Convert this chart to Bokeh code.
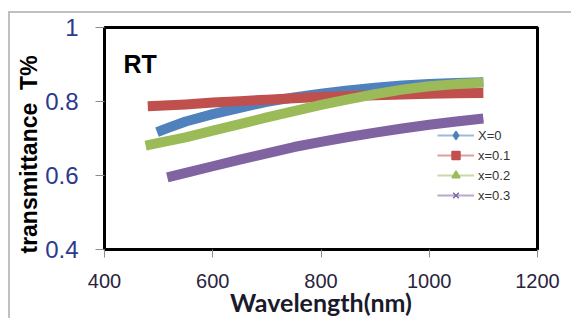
from math import pi
from bokeh.plotting import figure
from bokeh.models import Range1d, Label, Legend, LegendItem, FixedTicker
from bokeh.embed import file_html
from bokeh.resources import INLINE

# ---- data ----
series_labels = ["X=0", "x=0.1", "x=0.2", "x=0.3"]
colors = ["#4F81BD", "#C0504D", "#9BBB59", "#8064A2"]
markers = ["diamond", "square", "triangle", "x"]

wl_x0 = [497, 520, 550, 600, 650, 700, 750, 800, 850, 900, 950, 1000, 1050, 1100]
t_x0 = [0.717, 0.730, 0.746, 0.766, 0.783, 0.799, 0.811, 0.821, 0.830, 0.837, 0.843, 0.847, 0.850, 0.852]

wl_x01 = [480, 550, 600, 650, 700, 750, 800, 850, 900, 950, 1000, 1050, 1100]
t_x01 = [0.787, 0.792, 0.797, 0.801, 0.805, 0.809, 0.812, 0.815, 0.817, 0.819, 0.821, 0.822, 0.823]

wl_x02 = [476, 500, 550, 600, 650, 700, 750, 800, 850, 900, 950, 1000, 1050, 1100]
t_x02 = [0.681, 0.688, 0.703, 0.721, 0.739, 0.757, 0.774, 0.791, 0.806, 0.820, 0.832, 0.841, 0.847, 0.851]

wl_x03 = [516, 550, 600, 650, 700, 750, 800, 850, 900, 950, 1000, 1050, 1100]
t_x03 = [0.595, 0.607, 0.625, 0.643, 0.660, 0.677, 0.691, 0.704, 0.716, 0.727, 0.737, 0.746, 0.754]

x_ticks = [400, 600, 800, 1000, 1200]
y_ticks = [0.4, 0.6, 0.8, 1.0]
y_tick_labels = {0.4: "0.4", 0.6: "0.6", 0.8: "0.8", 1.0: "1"}

series_x = [wl_x0, wl_x01, wl_x02, wl_x03]
series_y = [t_x0, t_x01, t_x02, t_x03]

NB = "\u00a0"

p = figure(width=563, height=307, output_backend="svg", toolbar_location=None,
           x_range=Range1d(400, 1200), y_range=Range1d(0.4, 1.0),
           min_border_left=94, min_border_right=36, min_border_top=14, min_border_bottom=71)
p.styles = {"margin-top": "11px", "margin-bottom": "-8px", "margin-left": "8px",
            "border-left": "2px solid #c0c0c0", "border-top": "2px solid #c0c0c0"}

p.grid.visible = False
p.outline_line_color = "black"
p.outline_line_width = 3
p.background_fill_color = "white"
p.border_fill_color = "white"

# axes
p.xaxis.ticker = FixedTicker(ticks=x_ticks)
p.yaxis.ticker = FixedTicker(ticks=y_ticks)
p.yaxis.major_label_overrides = y_tick_labels
for ax in (p.xaxis, p.yaxis):
    ax.axis_line_color = None
    ax.major_tick_line_color = "#8c8c8c"
    ax.major_tick_in = 0
    ax.minor_tick_line_color = None
    ax.major_label_text_font = "Liberation Sans"
p.yaxis.major_tick_out = 9
p.xaxis.major_tick_out = 8
p.yaxis.major_label_text_font_size = "24px"
p.yaxis.major_label_text_color = "#2B3A8C"
p.yaxis.major_label_standoff = 17
p.yaxis.axis_label = "transmittance" + NB + NB + "T%" + NB * 5
p.yaxis.axis_label_text_font = "Liberation Sans"
p.yaxis.axis_label_text_font_style = "bold"
p.yaxis.axis_label_text_font_size = "23px"
p.yaxis.axis_label_text_color = "black"
p.yaxis.axis_label_standoff = 0
p.xaxis.major_label_text_font_size = "20px"
p.xaxis.major_label_text_color = "#2a2440"
p.xaxis.major_label_standoff = 16
p.xaxis.axis_label = "Wavelength(nm)"
p.xaxis.axis_label_text_font = "Lato"
p.xaxis.axis_label_text_font_style = "bold"
p.xaxis.axis_label_text_font_size = "25px"
p.xaxis.axis_label_text_color = "#1a1a2a"
p.xaxis.axis_label_standoff = -4

# curves
for xs, ys, c in zip(series_x, series_y, colors):
    p.line(xs, ys, line_color=c, line_width=10, line_cap="butt", line_join="round")

# legend (thin line + marker, as in the reference)
nan = float("nan")
items = []
for lab, c, m in zip(series_labels, colors, markers):
    lr = p.line([nan], [nan], line_color=c, line_width=2, line_alpha=0.55)
    sr = p.scatter([nan], [nan], marker=m, size=6, fill_color=c, line_color=c, line_width=1.5)
    items.append(LegendItem(label=lab, renderers=[lr, sr]))
legend = Legend(items=items, location=(333, 44), padding=0, margin=0, spacing=0,
                glyph_width=37, glyph_height=20, label_height=20, label_standoff=4,
                label_text_font="Liberation Sans", label_text_font_size="13px",
                label_text_color="#333333", border_line_color=None,
                background_fill_alpha=0)
p.add_layout(legend, "center")

# texts
p.add_layout(Label(x=435, y=0.901, text="RT", text_font="Liberation Sans",
                   text_font_style="bold", text_font_size="25px", text_color="black",
                   text_baseline="alphabetic"))

open("out.html", "w").write(file_html(p, INLINE))
